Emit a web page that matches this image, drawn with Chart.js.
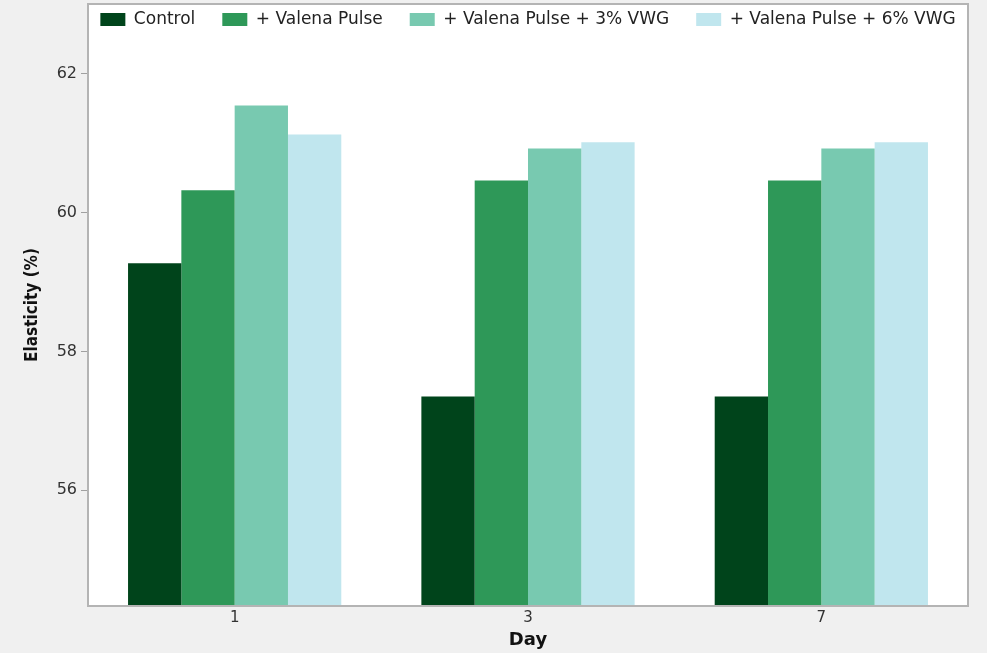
<!DOCTYPE html>
<html>
<head>
<meta charset="utf-8">
<script src="https://cdn.jsdelivr.net/npm/chart.js@4"></script>
<style>
  html, body { margin: 0; padding: 0; background: #f0f0f0; }
  #wrap { width: 987px; height: 653px; }
</style>
</head>
<body>
<div id="wrap"><canvas id="elasticityChart"></canvas></div>
<script>
const days = ['1', '3', '7'];
const seriesNames = ['Control', '+ Valena Pulse', '+ Valena Pulse + 3% VWG', '+ Valena Pulse + 6% VWG'];
const control = [59.27, 57.35, 57.35];
const valena = [60.32, 60.46, 60.46];
const valena3 = [61.54, 60.92, 60.92];
const valena6 = [61.12, 61.01, 61.01];
const yTicks = [56, 58, 60, 62];
const colors = ['#00441b', '#2e9858', '#78c9b0', '#c0e6ee'];

const frame = {
    id: 'frame',
    beforeDraw(chart) {
        const a = chart.chartArea, ctx = chart.ctx;
        ctx.save();
        ctx.fillStyle = '#ffffff';
        ctx.fillRect(a.left, a.top, a.right - a.left, a.bottom - a.top);
        ctx.restore();
    },
    afterLayout(chart) {
        // legend is drawn inside the plot frame: move its box over the top of the chart area
        const lg = chart.legend;
        if (lg) {
            lg.top = chart.chartArea.top - 20;
            lg.bottom = chart.chartArea.top + 40;
            lg.height = lg.bottom - lg.top;
            lg.left += 44;
            lg.right += 44;
        }
    },
    afterDraw(chart) {
        const a = chart.chartArea, ctx = chart.ctx;
        ctx.save();
        ctx.strokeStyle = '#b4b4b4';
        ctx.lineWidth = 2;
        ctx.strokeRect(a.left, a.top, a.right - a.left, a.bottom - a.top);
        ctx.restore();
    }
};

const allValues = [control, valena, valena3, valena6];

new Chart(document.getElementById('elasticityChart'), {
    type: 'bar',
    data: {
        labels: days,
        datasets: allValues.map((vals, i) => ({
            label: seriesNames[i],
            data: vals,
            backgroundColor: colors[i],
            borderWidth: 0
        }))
    },
    options: {
        responsive: true,
        maintainAspectRatio: false,
        animation: false,
        datasets: {
            bar: { barPercentage: 1, categoryPercentage: 0.727 }
        },
        layout: { padding: { top: 3, right: 19, left: 0, bottom: 0 } },
        plugins: {
            tooltip: { enabled: false },
            legend: {
                position: 'top',
                align: 'center',
                maxHeight: 1,
                labels: {
                    boxWidth: 25,
                    boxHeight: 13,
                    padding: 27,
                    color: '#222',
                    font: { family: 'DejaVu Sans', size: 17 }
                }
            }
        },
        scales: {
            x: {
                grid: { display: false, drawTicks: false },
                border: { display: false },
                ticks: { color: '#333', padding: 3, font: { family: 'DejaVu Sans', size: 15 } },
                title: {
                    display: true,
                    text: 'Day',
                    color: '#111',
                    padding: { top: 0, bottom: 2 },
                    font: { family: 'DejaVu Sans', size: 18, weight: 'bold' }
                },
                afterFit(scale) { scale.height = 47; }
            },
            y: {
                min: 54.335,
                max: 63,
                grid: { drawOnChartArea: false, drawTicks: true, tickLength: 7, color: '#a0a0a0' },
                border: { display: false },
                ticks: { color: '#333', padding: 4, font: { family: 'DejaVu Sans', size: 16 } },
                afterBuildTicks(scale) { scale.ticks = yTicks.map(v => ({ value: v })); },
                title: {
                    display: true,
                    text: 'Elasticity (%)',
                    color: '#111',
                    padding: { top: 22, bottom: 0 },
                    font: { family: "'DejaVu Sans Condensed', 'Liberation Sans', sans-serif", size: 17, weight: 'bold' }
                },
                afterFit(scale) {
                    scale.width = 88;
                    scale.paddingTop = 0;
                    scale.paddingBottom = 0;
                }
            }
        }
    },
    plugins: [frame]
});
</script>
</body>
</html>
